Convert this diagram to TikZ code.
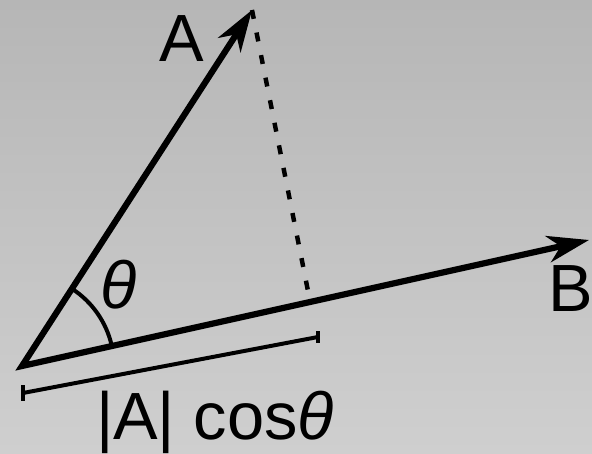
\documentclass[tikz,border=0pt]{standalone}
\usepackage{fontspec}
\setmainfont{Liberation Sans}
\usetikzlibrary{positioning,arrows.meta,calc}

\definecolor{bgtop}{RGB}{182,182,182}
\definecolor{bgmid}{RGB}{200,200,200}
\definecolor{bgbottom}{RGB}{207,207,207}

\begin{document}
\begin{tikzpicture}[x=0.03cm, y=0.03cm,
  vec/.style={line width=5.3pt, line join=miter,
    {Stealth[length=1.25cm, width=0.8cm, inset=0.38cm]}-{Stealth[length=1.25cm, width=0.8cm, inset=0.38cm]}},
  proj/.style={line width=3.8pt, dash pattern=on 0.27cm off 0.42cm},
  measure/.style={line width=3.4pt},
  lbl/.style={font=\fontsize{57}{68}\selectfont, inner sep=0pt}
]
\useasboundingbox (0,0) rectangle (592,454);
\shade[top color=bgtop, middle color=bgmid, bottom color=bgbottom] (0,0) rectangle (592,454);

\coordinate (O) at (22,88);
\coordinate (Atip) at (252,444);
\coordinate (Btip) at (589,214);
\coordinate (foot) at (310,153);
\coordinate (barL) at (23,61);
\coordinate (barR) at (318,117);

\draw[vec] (Atip) -- (O) -- (Btip);
\draw[proj] (Atip) -- (foot);
\draw[measure] (barL) -- (barR);
\draw[measure] ($(barL)+(0,-8)$) -- ($(barL)+(0,8)$);
\draw[measure] ($(barR)+(0,-6)$) -- ($(barR)+(0,6)$);
\draw[measure] ($(O)+(12.5:92)$) arc (12.5:57:92);

\node[lbl, anchor=base] (Alabel) at (182,392) {A};
\node[lbl, anchor=base west] (Blabel) at (548,142) {B};
\node[lbl, anchor=base] (theta) at (119,145) {\textit{θ}};
\node[lbl, anchor=base] (projlabel) at (215,14) {|A| cos\textit{θ}};
\end{tikzpicture}
\end{document}
